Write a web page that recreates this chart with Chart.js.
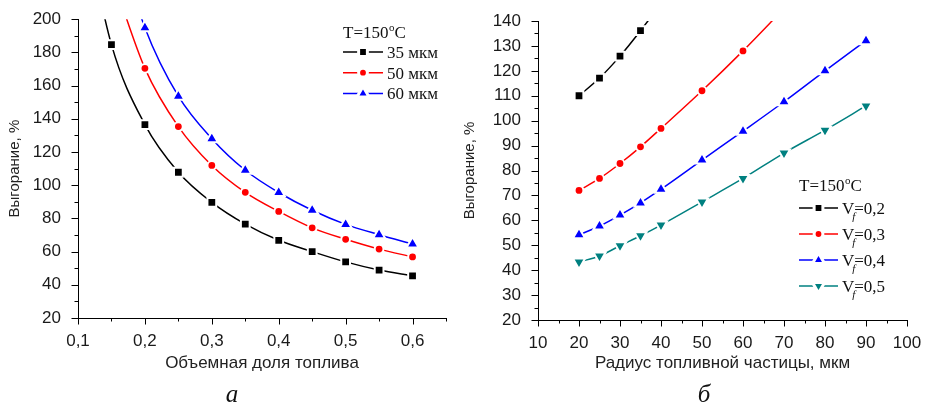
<!DOCTYPE html>
<html>
<head>
<meta charset="utf-8">
<script src="https://cdn.jsdelivr.net/npm/chart.js@4/dist/chart.umd.min.js"></script>
<style>
  html, body { margin: 0; padding: 0; background: #fff; }
  body { width: 931px; height: 406px; position: relative; overflow: hidden; }
  .plot { position: absolute; top: 0; }
  .sub { position: absolute; top: 380px; font: italic 25px 'Liberation Serif', serif; color: #111; transform: translateX(-50%); }
</style>
</head>
<body>
<div class="plot" style="left:0;width:455px;height:406px"><canvas id="fraction-chart"></canvas></div>
<div class="plot" style="left:455px;width:476px;height:406px"><canvas id="radius-chart"></canvas></div>
<div class="sub" style="left:232px">а</div>
<div class="sub" style="left:704px">б</div>
<script>
// Burn-out vs fuel volume fraction, per particle radius
const fraction = [0.1, 0.15, 0.2, 0.25, 0.3, 0.35, 0.4, 0.45, 0.5, 0.55, 0.6]
const burn35 = [277, 184.7, 136.5, 107.8, 89.6, 76.5, 66.8, 60, 53.8, 48.9, 45.4]
const burn50 = [null, 227, 170.4, 135.3, 111.9, 95.7, 84.2, 74.3, 67.4, 61.5, 56.8]
const burn60 = [null, 260, 194.9, 153.6, 128, 109, 95.6, 84.9, 76.4, 70.2, 64.6]

// Burn-out vs particle radius, per volume fraction
const radius = [20, 25, 30, 35, 40, 50, 60, 70, 80, 90]
const burnV02 = [110, 117.1, 125.9, 136.1, 147, null, null, null, null, null]
const burnV03 = [72, 76.8, 82.8, 89.5, 96.9, 112, 128, 145, null, null]
const burnV04 = [54.2, 57.7, 62.1, 67, 72.5, 84.2, 95.8, 107.6, 120, 132.1]
const burnV05 = [43.3, 45.7, 49.8, 53.8, 58.1, 67.4, 76.8, 87, 96.2, 105.9]

const fractionLegend = ['35 мкм', '50 мкм', '60 мкм']
const radiusLegend = ['0,2', '0,3', '0,4', '0,5']

const SANS = "'Liberation Sans', Arial, sans-serif"
const SERIF = "'Liberation Serif', 'Times New Roman', serif"

const pts = (xs, ys) => xs.map((x, i) => ({ x, y: ys[i] }))
const comma = (v, digits) => v.toFixed(digits).replace('.', ',')

const MARK = { rect: 6.2, circle: 4.4, triangle: 7 }
const GAP = 2

function series(data, color, style, rotation = 0) {
  return {
    data,
    borderColor: color,
    backgroundColor: color,
    borderWidth: 1.5,
    cubicInterpolationMode: 'monotone',
    pointStyle: style,
    rotation,
    // off-scale tail points only carry the curve, no marker
    pointRadius: (c) => (c.raw && c.raw.y > c.chart.scales.y.max ? 0 : MARK[style]),
    pointBorderColor: '#fff',
    pointBorderWidth: GAP,
  }
}

// major/minor tick marks pointing outwards
const tickMarks = {
  id: 'tickMarks',
  afterDraw(chart) {
    const { ctx, chartArea } = chart
    ctx.save()
    ctx.strokeStyle = '#000'
    ctx.lineWidth = 1
    Object.values(chart.scales).forEach((scale) => {
      scale.ticks.forEach((t) => {
        const len = t.label === '' ? 3.5 : 6.5
        const p = Math.round(scale.getPixelForValue(t.value)) + 0.5
        ctx.beginPath()
        if (scale.isHorizontal()) {
          ctx.moveTo(p, chartArea.bottom)
          ctx.lineTo(p, chartArea.bottom + len)
        } else {
          ctx.moveTo(chartArea.left - len, p)
          ctx.lineTo(chartArea.left, p)
        }
        ctx.stroke()
      })
    })
    ctx.restore()
  },
}

// legend block drawn inside the plot area
const boxLegend = {
  id: 'boxLegend',
  afterDraw(chart, args, opts) {
    const { ctx } = chart
    ctx.save()
    ctx.fillStyle = '#111'
    ctx.textBaseline = 'alphabetic'

    // "T=150°C"
    let x = opts.x
    ctx.font = `17px ${SERIF}`
    ctx.fillText('T=150', x, opts.titleY)
    x += ctx.measureText('T=150').width
    ctx.font = `11px ${SERIF}`
    ctx.fillText('o', x + 0.5, opts.titleY - 7)
    x += ctx.measureText('o').width + 0.5
    ctx.font = `17px ${SERIF}`
    ctx.fillText('C', x, opts.titleY)

    chart.data.datasets.forEach((ds, i) => {
      const y = opts.rowY + i * opts.rowStep
      const x0 = opts.x
      const x1 = opts.x + opts.lineLen
      ctx.strokeStyle = ds.borderColor
      ctx.lineWidth = 1.5
      ctx.beginPath()
      ctx.moveTo(x0, y)
      ctx.lineTo(x1, y)
      ctx.stroke()
      ctx.fillStyle = ds.backgroundColor
      ctx.strokeStyle = '#fff'
      ctx.lineWidth = GAP + 1
      Chart.helpers.drawPoint(ctx, {
        pointStyle: ds.pointStyle,
        rotation: ds.rotation,
        radius: MARK[ds.pointStyle],
        borderWidth: GAP + 1,
      }, (x0 + x1) / 2, y)

      ctx.fillStyle = '#111'
      let tx = x1 + 4
      const base = y + 6
      ctx.font = `17px ${SERIF}`
      if (opts.vf) {
        ctx.fillText('V', tx, base)
        tx += ctx.measureText('V').width
        ctx.fillText('=' + opts.labels[i], tx, base)
        ctx.font = `italic 11px ${SERIF}`
        ctx.fillText('f', tx - 2, base + 6)
      } else {
        ctx.fillText(opts.labels[i], tx, base)
      }
    })
    ctx.restore()
  },
}

function axisOptions(o) {
  return {
    type: 'linear',
    min: o.min,
    max: o.max,
    grid: { display: false },
    border: { display: true, color: '#000', width: 1 },
    ticks: {
      stepSize: o.step,
      autoSkip: false,
      maxRotation: 0,
      padding: o.padding,
      color: '#1a1a1a',
      font: { family: SANS, size: 17 },
      callback: o.label,
    },
    title: {
      display: true,
      text: o.title,
      color: '#222',
      font: { family: SANS, size: o.titleSize },
      padding: o.titlePad,
    },
    afterFit: o.fit,
  }
}

function makeChart(canvas, datasets, cfg) {
  return new Chart(canvas, {
    type: 'line',
    data: { datasets },
    options: {
      responsive: true,
      maintainAspectRatio: false,
      animation: false,
      events: [],
      layout: { padding: cfg.padding },
      scales: { x: cfg.x, y: cfg.y },
      plugins: {
        legend: { display: false },
        tooltip: { enabled: false },
        boxLegend: cfg.legend,
      },
    },
    plugins: [tickMarks, boxLegend],
  })
}

makeChart(document.getElementById('fraction-chart'), [
  series(pts(fraction, burn35), '#000000', 'rect'),
  series(pts(fraction, burn50), '#ff0000', 'circle'),
  series(pts(fraction, burn60), '#0000ff', 'triangle'),
], {
  padding: { left: 0, top: 13, right: 1, bottom: 31 },
  x: axisOptions({
    min: 0.1, max: 0.65, step: 0.05, padding: 5, titleSize: 17, titlePad: { top: 4, bottom: 1 },
    title: 'Объемная доля топлива',
    label: (v) => (Math.round(v * 100) % 10 === 0 && v < 0.62 ? comma(v, 1) : ''),
    fit: (s) => { s.height = 57 },
  }),
  y: axisOptions({
    min: 20, max: 200, step: 10, padding: 9, titleSize: 15, titlePad: { top: 6, bottom: 4 },
    title: 'Выгорание, %',
    label: (v) => (v % 20 === 0 ? String(v) : ''),
    fit: (s) => { s.width = 78 },
  }),
  legend: {
    x: 343, titleY: 38, rowY: 52, rowStep: 20.7, lineLen: 40,
    labels: fractionLegend, vf: false,
  },
})

makeChart(document.getElementById('radius-chart'), [
  series(pts(radius, burnV02), '#000000', 'rect'),
  series(pts(radius, burnV03), '#ff0000', 'circle'),
  series(pts(radius, burnV04), '#0000ff', 'triangle'),
  series(pts(radius, burnV05), '#008080', 'triangle', 180),
], {
  padding: { left: 0, top: 21, right: 24, bottom: 31 },
  x: axisOptions({
    min: 10, max: 100, step: 5, padding: 5, titleSize: 17, titlePad: { top: 4, bottom: 1 },
    title: 'Радиус топливной частицы, мкм',
    label: (v) => (v % 10 === 0 ? String(v) : ''),
    fit: (s) => { s.height = 55 },
  }),
  y: axisOptions({
    min: 20, max: 140, step: 5, padding: 9, titleSize: 15, titlePad: { top: 6, bottom: 4 },
    title: 'Выгорание, %',
    label: (v) => (v % 10 === 0 ? String(v) : ''),
    fit: (s) => { s.width = 83 },
  }),
  legend: {
    x: 344, titleY: 191, rowY: 208, rowStep: 26, lineLen: 39,
    labels: radiusLegend, vf: true,
  },
})
</script>
</body>
</html>
